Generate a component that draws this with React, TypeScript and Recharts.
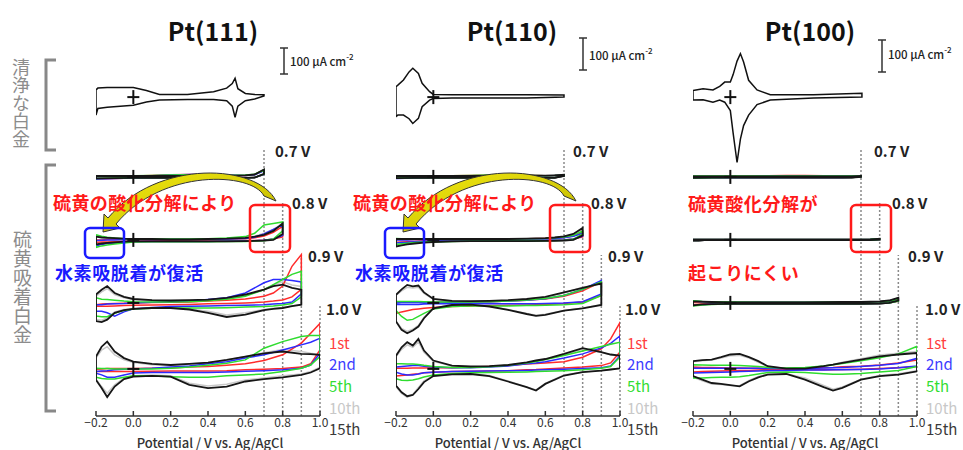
import React from 'react';
import { ComposedChart, Line, XAxis, YAxis, ReferenceLine, Scatter } from 'recharts';

const cycleNames = ['1st', '2nd', '5th', '10th', '15th'];
const vertexPotentials = [0.7, 0.8, 0.9, 1.0];
const vertexLabels = ['0.7 V', '0.8 V', '0.9 V', '1.0 V'];
const xTicks = [-0.2, 0, 0.2, 0.4, 0.6, 0.8, 1.0];
const panelTitles = ['Pt(111)', 'Pt(110)', 'Pt(100)'];

// stacking offsets in µA cm-2: clean CV, then the 0.7 / 0.8 / 0.9 / 1.0 V blocks
const cleanOffset = 1063;
const stackOffsets = [797, 587, 377, 157];
const guideTops = [893, 710, 537, 367];

// potential grids (V vs Ag/AgCl)
const grid07 = [-0.2, -0.1, 0, 0.1, 0.2, 0.3, 0.4, 0.5, 0.6, 0.65, 0.7];
const grid08 = [-0.2, -0.17, -0.14, -0.1, -0.05, 0, 0.1, 0.2, 0.3, 0.4, 0.5, 0.6, 0.65, 0.7, 0.75, 0.8];
const pt111Grid09 = [-0.2, -0.17, -0.14, -0.1, -0.05, 0, 0.1, 0.2, 0.3, 0.4, 0.5, 0.6, 0.7, 0.75, 0.8, 0.85, 0.9];
const pt111Grid10 = [-0.2, -0.17, -0.14, -0.1, -0.05, 0, 0.1, 0.2, 0.3, 0.4, 0.5, 0.6, 0.7, 0.8, 0.9, 0.95, 1.0];
const pt110Grid09 = [-0.2, -0.17, -0.14, -0.11, -0.08, -0.05, 0, 0.1, 0.2, 0.3, 0.4, 0.5, 0.55, 0.6, 0.7, 0.8, 0.9];
const pt110Grid10 = [-0.2, -0.17, -0.14, -0.11, -0.08, -0.05, 0, 0.1, 0.2, 0.3, 0.4, 0.5, 0.55, 0.6, 0.7, 0.8, 0.9, 0.95, 1.0];
const pt100Grid09 = [-0.2, -0.15, -0.1, 0, 0.2, 0.4, 0.6, 0.7, 0.8, 0.85, 0.9];
const pt100Grid10 = [-0.2, -0.15, -0.1, -0.05, 0, 0.05, 0.1, 0.15, 0.2, 0.3, 0.4, 0.5, 0.55, 0.6, 0.7, 0.8, 0.9, 1.0];

// clean Pt CVs (current in µA cm-2; anodic sweep / cathodic sweep on same potentials)
const pt111CleanE = [-0.2, -0.19, -0.14, 0, 0.07, 0.14, 0.29, 0.43, 0.5, 0.53, 0.545, 0.56, 0.6, 0.65, 0.7];
const pt111CleanUp = [24, 30, 32, 32, 22, 9, 9, 18, 30, 45, 63, 28, 12, 9, 8];
const pt111CleanDown = [-60, -38, -34, -27, -16, -10, -8, -8, -12, -30, -67, -30, -12, -6, 4];

const pt110CleanE = [-0.2, -0.19, -0.16, -0.13, -0.11, -0.08, -0.06, -0.02, 0, 0.1, 0.3, 0.5, 0.7];
const pt110CleanUp = [35, 40, 57, 84, 96, 79, 46, 18, 9, 8, 8, 8, 7];
const pt110CleanDown = [-65, -60, -60, -72, -88, -71, -32, -10, -5, -3, -3, -3, 0];

const pt100CleanE = [-0.2, -0.146, -0.093, -0.057, -0.03, 0, 0.015, 0.036, 0.054, 0.071, 0.098, 0.143, 0.214, 0.446, 0.705];
const pt100CleanUp = [22, 28, 24, 36, 50, 50, 75, 120, 145, 117, 56, 24, 8, 8, 13];
const pt100CleanDown = [-10, -9, -17, -10, -17, -45, -120, -218, -140, -95, -60, -25, -10, -3, 0];

// sulfur-covered Pt: rows are cycles 1st, 2nd, 5th, 10th, 15th
const pt111Up07 = [
  [2, 2, 3, 5, 7, 8, 7, 5, 5, 8, 22],
  [1, 2, 3, 4, 6, 8, 8, 6, 5, 7, 20],
  [4, 4, 4, 5, 6, 7, 6, 5, 6, 9, 23],
  [3, 3, 3, 3, 4, 4, 4, 4, 5, 8, 24],
  [3, 3, 3, 3, 3, 3, 3, 3, 5, 8, 25],
];
const pt111Down07 = [
  [-6, -5, -4, -3, -3, -3, -3, -3, -3, -2, 8],
  [-7, -5, -4, -4, -3, -3, -3, -3, -3, -2, 8],
  [-5, -4, -3, -3, -3, -3, -3, -3, -3, -2, 9],
  [-5, -4, -3, -3, -3, -3, -3, -3, -3, -2, 10],
  [-5, -4, -3, -3, -3, -3, -3, -3, -3, -2, 10],
];
const pt111Up08 = [
  [0, 0, 1, 1, 1, 1, 1, 1, 2, 2, 3, 4, 7, 13, 25, 45],
  [-2, -1, 0, 0, 1, 1, 1, 2, 2, 2, 3, 5, 9, 20, 35, 50],
  [17, 12, 9, 6, 4, 3, 3, 3, 3, 4, 6, 11, 22, 50, 55, 60],
  [12, 9, 7, 5, 4, 3, 3, 2, 2, 3, 4, 7, 12, 22, 35, 55],
  [11, 8, 7, 6, 4, 3, 3, 2, 2, 3, 4, 7, 11, 17, 30, 55],
];
const pt111Down08 = [
  [-8, -7, -7, -6, -5, -5, -4, -4, -4, -4, -4, -3, -2, -1, 3, 10],
  [-20, -15, -12, -10, -8, -6, -5, -5, -5, -5, -4, -4, -3, -1, 3, 15],
  [-25, -20, -17, -14, -10, -7, -6, -6, -6, -6, -5, -5, -4, -3, 3, 30],
  [-16, -13, -11, -9, -7, -5, -5, -5, -5, -5, -5, -4, -3, -2, 1, 22],
  [-15, -12, -10, -8, -6, -5, -5, -5, -5, -5, -5, -4, -3, -2, 0, 20],
];
const pt111Up09 = [
  [-6, -4, -3, -2, -1, 0, 1, 2, 3, 6, 9, 13, 22, 33, 56, 122, 161],
  [-6, -6, -4, -3, -2, 0, 2, 4, 6, 11, 17, 33, 67, 78, 78, 75, 70],
  [17, 12, 11, 9, 6, 4, 3, 3, 4, 7, 12, 22, 44, 61, 78, 95, 105],
  [22, 37, 48, 28, 17, 11, 8, 7, 8, 10, 15, 25, 45, 60, 70, 60, 55],
  [28, 44, 56, 33, 20, 13, 9, 8, 9, 11, 17, 28, 44, 56, 61, 50, 44],
];
const pt111Down09 = [
  [-11, -11, -11, -10, -9, -8, -7, -6, -5, -3, -2, 0, 3, 6, 10, 20, 45],
  [-28, -28, -33, -44, -30, -20, -15, -12, -11, -10, -9, -8, -6, -4, -2, 3, 30],
  [-44, -46, -46, -35, -25, -20, -18, -17, -17, -17, -16, -14, -12, -10, -7, -2, 20],
  [-55, -58, -50, -30, -22, -19, -16, -16, -20, -28, -40, -33, -22, -18, -15, -10, -5],
  [-61, -64, -56, -33, -24, -20, -17, -17, -22, -33, -47, -39, -24, -20, -17, -11, -6],
];
const pt111Up10 = [
  [-1, 0, 1, 1, 1, 1, 2, 3, 6, 8, 12, 17, 28, 47, 86, 119, 152],
  [-9, -7, -6, -3, -1, 0, 2, 6, 10, 17, 24, 36, 47, 63, 80, 89, 102],
  [2, 1, 1, 0, 0, 0, 0, 2, 6, 12, 19, 30, 69, 91, 108, 111, 111],
  [36, 63, 74, 47, 30, 21, 14, 12, 16, 21, 30, 41, 54, 65, 58, 52, 47],
  [41, 74, 91, 58, 36, 24, 17, 13, 17, 21, 30, 41, 52, 58, 50, 49, 47],
];
const pt111Down10 = [
  [-9, -9, -9, -9, -9, -9, -8, -7, -7, -7, -6, -3, -1, 1, 6, 17, 63],
  [-14, -20, -28, -28, -20, -14, -12, -12, -12, -12, -10, -8, -6, -3, 2, 13, 52],
  [-28, -32, -34, -34, -28, -23, -23, -26, -28, -28, -23, -20, -17, -9, 2, 13, 41],
  [-34, -59, -81, -53, -31, -23, -20, -23, -48, -57, -51, -37, -30, -23, -17, -9, 6],
  [-37, -64, -94, -59, -34, -26, -23, -26, -53, -64, -59, -42, -34, -28, -20, -12, 2],
];

const pt110Up07 = [
  [2, 2, 3, 4, 5, 6, 6, 5, 4, 5, 6],
  [2, 3, 3, 3, 4, 5, 5, 4, 4, 5, 6],
  [3, 3, 3, 4, 5, 6, 5, 5, 4, 5, 6],
  [3, 3, 3, 3, 3, 4, 4, 4, 4, 5, 7],
  [3, 3, 3, 3, 3, 3, 5, 5, 4, 5, 7],
];
const pt110Down07 = [
  [-4, -3, -3, -3, -3, -3, -3, -3, -3, -3, 3],
  [-5, -4, -3, -3, -3, -3, -3, -3, -3, -3, 3],
  [-4, -3, -3, -3, -3, -3, -3, -3, -3, -3, 3],
  [-4, -3, -3, -3, -3, -3, -3, -3, -3, -3, 3],
  [-4, -3, -3, -3, -3, -3, -3, -3, -3, -3, 3],
];
const pt110Up08 = [
  [1, 1, 1, 1, 1, 2, 2, 2, 3, 3, 4, 5, 6, 8, 13, 25],
  [0, 0, 0, 1, 1, 1, 2, 2, 2, 3, 3, 4, 5, 7, 12, 22],
  [5, 4, 4, 4, 3, 3, 3, 3, 3, 3, 4, 5, 7, 10, 15, 30],
  [3, 3, 3, 3, 3, 3, 3, 3, 3, 3, 4, 6, 8, 11, 18, 36],
  [3, 3, 3, 3, 3, 3, 3, 3, 3, 3, 4, 6, 8, 12, 20, 40],
];
const pt110Down08 = [
  [-8, -7, -6, -5, -4, -4, -3, -3, -3, -3, -3, -2, -1, 0, 3, 10],
  [-10, -9, -8, -6, -5, -4, -4, -3, -3, -3, -3, -2, -1, 0, 3, 12],
  [-15, -13, -11, -9, -7, -6, -5, -4, -4, -4, -4, -3, -2, -1, 2, 20],
  [-20, -16, -14, -11, -8, -7, -5, -4, -4, -4, -4, -3, -3, -2, 0, 14],
  [-22, -18, -15, -12, -9, -7, -5, -4, -4, -4, -4, -3, -3, -2, 0, 15],
];
const pt110Up09 = [
  [2, 2, 2, 2, 2, 2, 2, 3, 3, 4, 6, 9, 11, 13, 22, 40, 70],
  [0, 1, 1, 1, 1, 1, 1, 2, 3, 4, 6, 9, 11, 14, 25, 45, 75],
  [5, 5, 5, 5, 5, 4, 3, 3, 3, 4, 6, 10, 12, 15, 25, 45, 70],
  [25, 40, 52, 50, 52, 32, 12, 6, 5, 6, 8, 12, 16, 19, 33, 52, 62],
  [27, 45, 60, 55, 58, 35, 13, 7, 6, 7, 9, 13, 17, 20, 35, 50, 65],
];
const pt110Down09 = [
  [-35, -30, -26, -22, -20, -18, -15, -12, -10, -9, -8, -7, -6, -5, -2, 3, 25],
  [-5, -5, -5, -5, -5, -4, -3, -3, -3, -3, -3, -3, -3, -2, 0, 4, 30],
  [-25, -45, -58, -55, -45, -35, -20, -12, -10, -10, -10, -9, -9, -8, -6, -2, 25],
  [-60, -85, -95, -88, -75, -48, -17, -7, -6, -11, -22, -35, -41, -38, -25, -17, -6],
  [-62, -90, -101, -92, -79, -51, -18, -7, -6, -12, -23, -37, -43, -40, -26, -18, -7],
];
const pt110Up10 = [
  [2, 2, 2, 3, 3, 3, 4, 4, 6, 8, 11, 16, 18, 20, 24, 39, 67, 100, 155],
  [6, 8, 10, 11, 11, 9, 6, 4, 4, 6, 10, 17, 20, 24, 36, 50, 70, 85, 110],
  [17, 17, 16, 16, 15, 12, 8, 5, 5, 7, 12, 20, 25, 31, 45, 60, 75, 82, 89],
  [40, 65, 80, 72, 90, 55, 25, 10, 7, 8, 12, 20, 26, 31, 47, 65, 55, 47, 42],
  [44, 72, 89, 78, 100, 61, 28, 11, 8, 9, 13, 22, 28, 33, 50, 69, 56, 48, 44],
];
const pt110Down10 = [
  [-24, -22, -20, -18, -16, -13, -11, -9, -8, -7, -6, -3, -2, 0, 3, 6, 11, 20, 56],
  [-11, -17, -20, -20, -17, -13, -11, -9, -8, -7, -6, -5, -4, -3, -1, 1, 4, 10, 44],
  [-33, -38, -39, -37, -33, -27, -20, -15, -13, -12, -11, -10, -9, -8, -6, -3, 2, 8, 40],
  [-60, -82, -95, -85, -62, -40, -22, -17, -16, -22, -40, -60, -70, -48, -20, -10, -5, -2, 2],
  [-56, -78, -91, -87, -67, -44, -24, -18, -17, -24, -42, -61, -72, -50, -22, -11, -6, -2, 2],
];

const pt100Up07 = [
  [2, 2, 2, 3, 4, 5, 5, 4, 3, 3, 3],
  [2, 2, 2, 2, 3, 3, 3, 3, 3, 3, 3],
  [3, 3, 3, 3, 3, 3, 3, 3, 3, 3, 3],
  [2, 2, 2, 2, 2, 2, 2, 2, 2, 2, 3],
  [2, 2, 2, 2, 2, 2, 2, 2, 2, 2, 3],
];
const pt100Down07 = [
  [-3, -2, -2, -2, -2, -2, -3, -3, -3, -2, 0],
  [-4, -3, -3, -3, -3, -3, -3, -3, -3, -2, 0],
  [-4, -3, -2, -2, -2, -2, -2, -2, -2, -2, 0],
  [-3, -2, -2, -2, -2, -2, -2, -2, -2, -2, 0],
  [-3, -2, -2, -2, -2, -2, -2, -2, -2, -2, 0],
];
// at 0.8 V all Pt(100) cycles overlap on one thin trace
const pt100Up08Trace = [1, 1, 1, 1, 1, 1, 1, 1, 1, 1, 1, 1, 1, 1, 2, 4];
const pt100Down08Trace = [-2, -2, -1, -1, -1, -1, -1, -1, -1, -1, -1, -1, -1, -1, -1, 1];
const pt100Up09 = [
  [3, 3, 2, 2, 2, 2, 2, 3, 4, 6, 12],
  [6, 4, 3, 2, 2, 2, 2, 3, 4, 6, 14],
  [7, 5, 4, 3, 2, 2, 3, 3, 4, 6, 12],
  [5, 4, 3, 2, 2, 2, 3, 3, 5, 8, 16],
  [5, 4, 3, 2, 2, 2, 3, 3, 5, 8, 17],
];
const pt100Down09 = [
  [-5, -4, -3, -3, -3, -3, -3, -3, -2, 0, 6],
  [-9, -6, -4, -3, -3, -3, -3, -3, -2, 0, 7],
  [-10, -7, -5, -3, -3, -3, -3, -3, -2, 0, 6],
  [-8, -5, -4, -3, -3, -3, -3, -3, -2, 0, 8],
  [-8, -5, -4, -3, -3, -3, -3, -3, -2, 0, 8],
];
const pt100Up10 = [
  [6, 5, 5, 4, 3, 3, 2, 2, 1, 1, 2, 4, 5, 7, 9, 13, 20, 30],
  [2, 2, 2, 2, 2, 2, 2, 2, 1, 1, 1, 3, 4, 5, 8, 12, 18, 35],
  [14, 13, 12, 12, 12, 11, 10, 8, 5, 3, 5, 10, 14, 18, 27, 37, 50, 75],
  [24, 27, 30, 36, 44, 45, 36, 22, 8, 1, 2, 10, 15, 22, 34, 46, 52, 58],
  [26, 29, 31, 39, 48, 50, 39, 26, 9, 1, 1, 9, 14, 20, 31, 42, 48, 53],
];
const pt100Down10 = [
  [-10, -9, -8, -7, -6, -5, -5, -4, -4, -3, -3, -3, -3, -2, -1, 1, 4, 8],
  [-14, -13, -12, -11, -10, -9, -8, -7, -6, -5, -4, -4, -3, -3, -2, 0, 4, 10],
  [-30, -30, -29, -28, -28, -26, -22, -17, -12, -10, -12, -16, -18, -18, -15, -10, -5, 8],
  [-28, -40, -50, -52, -55, -56, -38, -25, -18, -16, -30, -55, -68, -60, -34, -22, -16, -6],
  [-24, -36, -47, -50, -54, -58, -41, -28, -19, -17, -36, -61, -72, -63, -36, -24, -19, -8],
];

// ---- styling ----
const jp = "'Noto Sans CJK JP', 'Noto Sans', sans-serif";
const cycleColors = ['#ff2b2b', '#2b2bff', '#2fdc2f', '#c9c9c9', '#161616'];
const legendColors = ['#ff4040', '#3c3cff', '#33dd33', '#c8c8c8', '#3a3a3a'];
const drawOrder = [3, 0, 1, 2, 4];
const panelLefts = [76, 376, 673];
const guideLabelX = [
  [275, 292, 308, 326],
  [573, 591, 608, 625],
  [874, 892, 908, 925],
];
const guideLabelY = [150, 202, 255, 308];
const legendX = [329, 627, 926];
const legendY = [342, 363, 385, 407, 428];

type Block = { grid: number[]; up: number[][]; down: number[][] };

const panels: { clean: { e: number[]; up: number[]; down: number[] }; blocks: Block[] }[] = [
  {
    clean: { e: pt111CleanE, up: pt111CleanUp, down: pt111CleanDown },
    blocks: [
      { grid: grid07, up: pt111Up07, down: pt111Down07 },
      { grid: grid08, up: pt111Up08, down: pt111Down08 },
      { grid: pt111Grid09, up: pt111Up09, down: pt111Down09 },
      { grid: pt111Grid10, up: pt111Up10, down: pt111Down10 },
    ],
  },
  {
    clean: { e: pt110CleanE, up: pt110CleanUp, down: pt110CleanDown },
    blocks: [
      { grid: grid07, up: pt110Up07, down: pt110Down07 },
      { grid: grid08, up: pt110Up08, down: pt110Down08 },
      { grid: pt110Grid09, up: pt110Up09, down: pt110Down09 },
      { grid: pt110Grid10, up: pt110Up10, down: pt110Down10 },
    ],
  },
  {
    clean: { e: pt100CleanE, up: pt100CleanUp, down: pt100CleanDown },
    blocks: [
      { grid: grid07, up: pt100Up07, down: pt100Down07 },
      {
        grid: grid08,
        up: cycleNames.map(() => pt100Up08Trace),
        down: cycleNames.map(() => pt100Down08Trace),
      },
      { grid: pt100Grid09, up: pt100Up09, down: pt100Down09 },
      { grid: pt100Grid10, up: pt100Up10, down: pt100Down10 },
    ],
  },
];

// closed CV loop: anodic sweep out, cathodic sweep back
function loop(grid: number[], up: number[], down: number[], offset: number) {
  const pts = grid.map((e, k) => ({ x: e, y: offset + up[k] }));
  for (let k = grid.length - 1; k >= 0; k--) pts.push({ x: grid[k], y: offset + down[k] });
  pts.push(pts[0]);
  return pts;
}

const crossPoints = [cleanOffset, ...stackOffsets].map((o) => ({ x: 0, y: o }));

const Cross = (props: any) => {
  const { cx, cy } = props;
  return (
    <g>
      <line x1={cx - 6} x2={cx + 6} y1={cy} y2={cy} stroke="#111" strokeWidth={2} />
      <line x1={cx} x2={cx} y1={cy - 7} y2={cy + 7} stroke="#111" strokeWidth={2} />
    </g>
  );
};

const fmtTick = (v: number) => (v < 0 ? `\u2212${Math.abs(v).toFixed(1)}` : v.toFixed(1));

function CvPanel({ index }: { index: number }) {
  const p = panels[index];
  const lines: React.ReactNode[] = [];
  p.blocks.forEach((b, bi) => {
    drawOrder.forEach((ci) => {
      lines.push(
        <Line
          key={`b${bi}c${ci}`}
          data={loop(b.grid, b.up[ci], b.down[ci], stackOffsets[bi])}
          dataKey="y"
          type="linear"
          stroke={cycleColors[ci]}
          strokeWidth={ci === 4 ? 1.8 : 1.5}
          dot={false}
          activeDot={false}
          isAnimationActive={false}
        />
      );
    });
  });
  return (
    <div style={{ position: 'absolute', left: panelLefts[index], top: 0 }}>
      <ComposedChart width={254} height={450} margin={{ top: 26, right: 10, bottom: 4, left: 20 }}>
        <XAxis
          type="number"
          dataKey="x"
          domain={[-0.2, 1]}
          ticks={xTicks}
          allowDataOverflow
          tickFormatter={fmtTick}
          tick={{ fontSize: 12, fill: '#333', fontFamily: jp }}
          axisLine={{ stroke: '#333', strokeWidth: 1.5 }}
          tickLine={{ stroke: '#333', strokeWidth: 1.5 }}
          tickSize={-5}
          tickMargin={7}
          interval={0}
        />
        <YAxis type="number" dataKey="y" domain={[0, 1300]} hide width={0} allowDataOverflow />
        {vertexPotentials.map((v, i) => (
          <ReferenceLine
            key={v}
            segment={[{ x: v, y: 0 }, { x: v, y: guideTops[i] }]}
            stroke="#8a8a8a"
            strokeDasharray="2 2"
            strokeWidth={1.5}
          />
        ))}
        <Line
          data={loop(p.clean.e, p.clean.up, p.clean.down, cleanOffset)}
          dataKey="y"
          type="linear"
          stroke="#111"
          strokeWidth={1.5}
          dot={false}
          activeDot={false}
          isAnimationActive={false}
        />
        {lines}
        <Scatter data={crossPoints} shape={Cross} isAnimationActive={false} />
      </ComposedChart>
    </div>
  );
}

const arrowPath =
  'M 276 201 C 258 164 158 158 108 218 L 104 214 L 103 232 L 120 228 L 116 224 C 162 168 252 172 264 196 Z';

function Overlay() {
  const scaleBars = [
    { x: 284, y1: 48, y2: 74, tx: 290, ty: 61 },
    { x: 583, y1: 38, y2: 70, tx: 589, ty: 55 },
    { x: 882, y1: 40, y2: 72, tx: 888, ty: 54 },
  ];
  const titleX = [213, 512, 810];
  return (
    <svg width={963} height={450} style={{ position: 'absolute', left: 0, top: 0, pointerEvents: 'none' }}>
      <defs>
        <linearGradient id="arrowFill" x1="0" y1="0" x2="1" y2="1">
          <stop offset="0%" stopColor="#f3ea10" />
          <stop offset="100%" stopColor="#bdb400" />
        </linearGradient>
      </defs>
      {panelTitles.map((t, i) => (
        <text key={t} x={titleX[i]} y={30} textAnchor="middle" dominantBaseline="central" fontFamily={jp} fontSize={25} fontWeight={700} fill="#111">
          {t}
        </text>
      ))}
      {scaleBars.map((s, i) => (
        <g key={i} stroke="#333" strokeWidth={1.5}>
          <line x1={s.x} x2={s.x} y1={s.y1} y2={s.y2} />
          <line x1={s.x - 4} x2={s.x + 4} y1={s.y1} y2={s.y1} />
          <line x1={s.x - 4} x2={s.x + 4} y1={s.y2} y2={s.y2} />
          <text x={s.tx} y={s.ty} dominantBaseline="central" fontFamily={jp} fontSize={11.5} fontWeight={500} fill="#222" stroke="none">
            100 μA cm<tspan fontSize={8} dy={-5}>-2</tspan>
          </text>
        </g>
      ))}
      {/* brackets */}
      <path d="M 56 60 L 46 60 L 46 150 L 56 150" fill="none" stroke="#888" strokeWidth={3} />
      <path d="M 56 165 L 46 165 L 46 411 L 56 411" fill="none" stroke="#888" strokeWidth={3} />
      {/* guide labels */}
      {guideLabelX.map((row, pi) =>
        row.map((gx, gi) => (
          <text key={`${pi}-${gi}`} x={gx} y={guideLabelY[gi]} dominantBaseline="central" fontFamily={jp} fontSize={15} fontWeight={700} fill="#222">
            {vertexLabels[gi]}
          </text>
        ))
      )}
      {/* cycle legends */}
      {legendX.map((lx, pi) =>
        cycleNames.map((c, ci) => (
          <text key={`${pi}-${c}`} x={lx} y={legendY[ci]} dominantBaseline="central" fontFamily={jp} fontSize={15} fill={legendColors[ci]}>
            {c}
          </text>
        ))
      )}
      {/* axis titles */}
      {[210, 508, 805].map((ax) => (
        <text key={ax} x={ax} y={442} textAnchor="middle" dominantBaseline="central" fontFamily={jp} fontSize={13} fontWeight={500} fill="#333">
          Potential / V vs. Ag/AgCl
        </text>
      ))}
      {/* arrows */}
      <path d={arrowPath} fill="url(#arrowFill)" stroke="#333" strokeWidth={1} />
      <path d={arrowPath} transform="translate(300,0)" fill="url(#arrowFill)" stroke="#333" strokeWidth={1} />
      {/* boxes */}
      {[250, 550, 851].map((bx) => (
        <rect key={bx} x={bx} y={205} width={40} height={47} rx={5} fill="none" stroke="#ff1a1a" strokeWidth={2.5} />
      ))}
      {[85, 385].map((bx) => (
        <rect key={bx} x={bx} y={228} width={39} height={30} rx={5} fill="none" stroke="#1a1aff" strokeWidth={2.5} />
      ))}
      {/* annotations */}
      <g fontFamily={jp} fontSize={18} fontWeight={700}>
        <text x={53} y={202} dominantBaseline="central" fill="#ff1a1a" letterSpacing={0.4}>硫黄の酸化分解により</text>
        <text x={55} y={272} dominantBaseline="central" fill="#1a1aff" letterSpacing={0.6}>水素吸脱着が復活</text>
        <text x={353} y={202} dominantBaseline="central" fill="#ff1a1a" letterSpacing={0.4}>硫黄の酸化分解により</text>
        <text x={355} y={272} dominantBaseline="central" fill="#1a1aff" letterSpacing={0.6}>水素吸脱着が復活</text>
        <text x={688} y={203} dominantBaseline="central" fill="#ff1a1a" letterSpacing={0.6}>硫黄酸化分解が</text>
        <text x={688} y={272} dominantBaseline="central" fill="#ff1a1a" letterSpacing={0.6}>起こりにくい</text>
      </g>
    </svg>
  );
}

export default function App() {
  const vertical: React.CSSProperties = {
    position: 'absolute',
    writingMode: 'vertical-rl',
    color: '#8c8c8c',
    fontFamily: jp,
    lineHeight: 1,
  };
  return (
    <div style={{ position: 'absolute', left: 0, top: 0, width: 963, height: 450, background: '#fff', fontFamily: jp }}>
      {panels.map((_, i) => (
        <CvPanel key={i} index={i} />
      ))}
      <div style={{ ...vertical, left: 12, top: 58, fontSize: 18 }}>清浄な白金</div>
      <div style={{ ...vertical, left: 13, top: 230, fontSize: 19 }}>硫黄吸着白金</div>
      <Overlay />
    </div>
  );
}
